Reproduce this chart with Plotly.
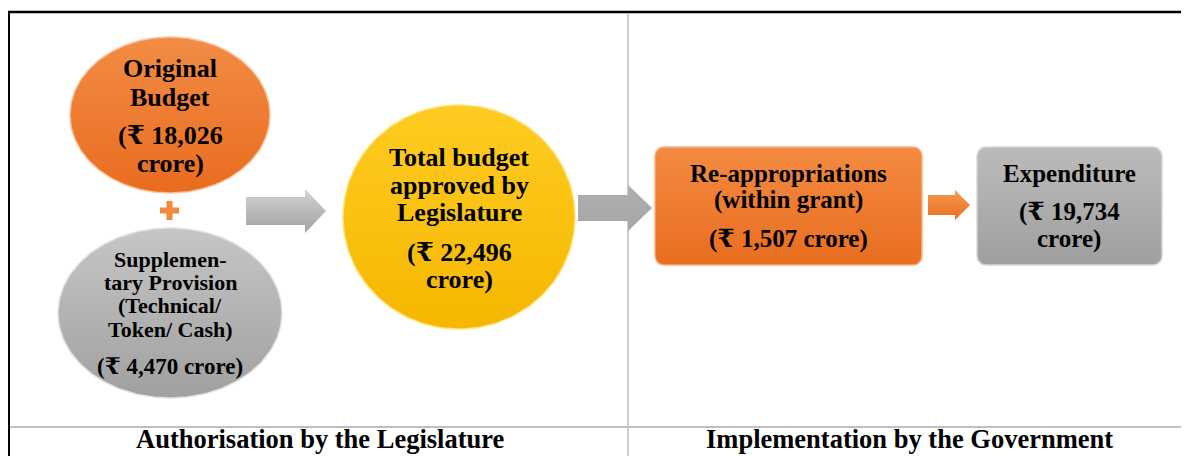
import numpy as np
import plotly.graph_objects as go

W, H = 1189, 456
OFF = 8  # default page margin around the figure

# ---- data ----
node_names = [
    ["Original", "Budget"],
    ["Supplemen-", "tary Provision", "(Technical/", "Token/ Cash)"],
    ["Total budget", "approved by", "Legislature"],
    ["Re-appropriations", "(within grant)"],
    ["Expenditure"],
]
amounts_crore = [18026, 4470, 22496, 1507, 19734]
section_labels = ["Authorisation by the Legislature", "Implementation by the Government"]

FONT = "Liberation Serif, Times New Roman, DejaVu Serif, serif"

fig = go.Figure()


def ellipse(cx, cy, rx, ry, c_top, c_bot, rim):
    t = np.linspace(0, 2 * np.pi, 200)
    fig.add_trace(go.Scatter(
        x=cx + rx * np.cos(t), y=cy + ry * np.sin(t), mode="lines",
        fill="toself", line=dict(color=rim, width=1.5),
        fillgradient=dict(type="vertical", colorscale=[[0, c_bot], [1, c_top]]),
        hoverinfo="skip", showlegend=False))


def rrect(x0, y0, x1, y1, r, c_top, c_bot, rim):
    xs, ys = [], []
    corners = [(x1 - r, y0 + r, -np.pi / 2, 0), (x1 - r, y1 - r, 0, np.pi / 2),
               (x0 + r, y1 - r, np.pi / 2, np.pi), (x0 + r, y0 + r, np.pi, 1.5 * np.pi)]
    for cx, cy, a0, a1 in corners:
        a = np.linspace(a0, a1, 12)
        xs += list(cx + r * np.cos(a))
        ys += list(cy + r * np.sin(a))
    xs.append(xs[0]); ys.append(ys[0])
    fig.add_trace(go.Scatter(
        x=xs, y=ys, mode="lines", fill="toself", line=dict(color=rim, width=1.5),
        fillgradient=dict(type="vertical", colorscale=[[0, c_bot], [1, c_top]]),
        hoverinfo="skip", showlegend=False))


def arrow(x0, x1, xh, yc, bh, hh, c_top, c_bot):
    xs = [x0, xh, xh, x1, xh, xh, x0, x0]
    ys = [yc - bh, yc - bh, yc - hh, yc, yc + hh, yc + bh, yc + bh, yc - bh]
    fig.add_trace(go.Scatter(
        x=xs, y=ys, mode="lines", fill="toself", line=dict(width=0, color=c_bot),
        fillgradient=dict(type="vertical", colorscale=[[0, c_bot], [1, c_top]]),
        hoverinfo="skip", showlegend=False))


def text_lines(x, ys, lines, size):
    for y, s in zip(ys, lines):
        fig.add_annotation(x=x, y=y, text="<b>" + s + "</b>", showarrow=False,
                           xanchor="center", yanchor="middle", borderpad=0,
                           font=dict(family=FONT, size=size, color="black"))


def amt(v):
    return f"(\u20b9 {v:,}"


# ---- frame lines ----
frame = [
    dict(x0=8, x1=W, y0=12, y1=12, color="black", width=2.5),
    dict(x0=9, x1=9, y0=12, y1=H, color="black", width=2),
    dict(x0=628, x1=628, y0=13, y1=H, color="#BFBFBF", width=1.5),
    dict(x0=10, x1=W, y0=427, y1=427, color="#BFBFBF", width=2),
]
for f in frame:
    fig.add_shape(type="line", x0=f["x0"], x1=f["x1"], y0=f["y0"], y1=f["y1"],
                  line=dict(color=f["color"], width=f["width"]), layer="below")

# ---- shapes ----
ellipse(170, 115, 100, 78, "#F28C45", "#E96C1F", "#FAC39A")          # original budget
ellipse(170, 313, 112, 85, "#C6C6C6", "#A0A0A0", "#E2E2E2")          # supplementary
ellipse(459, 217, 116, 112, "#FFCC22", "#F5B700", "#FFE27A")         # total
rrect(655, 147, 922, 265, 9, "#F38B42", "#E96D1F", "#F8B07E")        # re-appropriation
rrect(977, 147, 1162, 265, 9, "#BBBBBB", "#9F9F9F", "#D6D6D6")       # expenditure

arrow(246, 326, 305, 211, 14, 22, "#D2D2D2", "#A2A2A2")
arrow(578, 652, 628, 208, 13, 23, "#B0ADAD", "#A9A6A6")
arrow(928, 970, 955, 205, 10, 15, "#F59A50", "#EA6E1E")

# plus sign
fig.add_shape(type="rect", x0=160, x1=179, y0=207.5, y1=213.5,
              fillcolor="#F28A3E", line=dict(width=0))
fig.add_shape(type="rect", x0=166.5, x1=172.5, y0=201, y1=220,
              fillcolor="#F28A3E", line=dict(width=0))

# ---- texts ----
text_lines(170, [68, 97], node_names[0], 26)
text_lines(170, [135, 163], [amt(amounts_crore[0]), "crore)"], 26)

text_lines(170, [259, 282, 305, 329], node_names[1], 22)
text_lines(170, [366], [amt(amounts_crore[1]) + " crore)"], 23)

text_lines(459, [157, 185, 212], node_names[2], 26)
text_lines(459, [252, 279], [amt(amounts_crore[2]), "crore)"], 26)

text_lines(788, [173, 200], node_names[3], 25)
text_lines(788, [239], [amt(amounts_crore[3]) + " crore)"], 25)

text_lines(1069, [173], node_names[4], 25)
text_lines(1069, [212, 239], [amt(amounts_crore[4]), "crore)"], 25)

text_lines(320, [439], [section_labels[0]], 26.5)
text_lines(909, [439], [section_labels[1]], 26.5)

fig.update_layout(
    width=W - OFF, height=H - OFF, autosize=False,
    margin=dict(l=0, r=0, t=0, b=0),
    paper_bgcolor="white", plot_bgcolor="white",
    xaxis=dict(range=[OFF, W], visible=False, fixedrange=True),
    yaxis=dict(range=[H, OFF], visible=False, fixedrange=True),
    showlegend=False,
)
fig.write_html("out.html")
